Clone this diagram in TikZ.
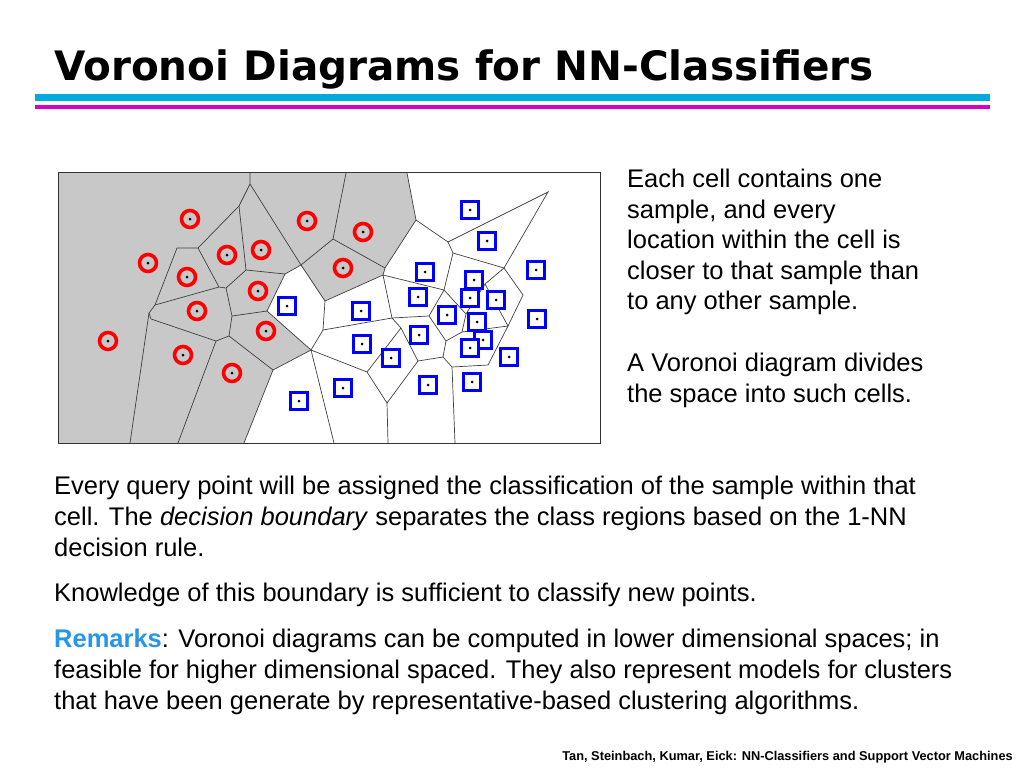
\documentclass[tikz,border=0pt]{standalone}
\usepackage{fontspec}
\setmainfont{Liberation Sans}
\newfontfamily\titlefont{DejaVu Sans}
\usetikzlibrary{positioning}
\definecolor{barcyan}{RGB}{0,170,220}
\definecolor{barmag}{RGB}{210,0,200}
\definecolor{remblue}{RGB}{40,150,230}
\definecolor{cellgray}{RGB}{200,200,200}
\tikzset{
  txt/.style={anchor=north west, inner sep=0pt, font=\fontsize{25.5}{31}\selectfont, align=left},
  redpt/.style={circle, draw=red, line width=3.6pt, minimum size=17pt, inner sep=0pt},
  bluept/.style={rectangle, draw=blue, line width=3.6pt, minimum size=17pt, inner sep=0pt},
  edge/.style={draw=black!75, line width=0.7pt}
}
\begin{document}
\begin{tikzpicture}[x=1pt,y=-1pt]
  \useasboundingbox (0,0) rectangle (1024,768);
  % title and bars
  \node (title) [anchor=base west, inner sep=0pt, font=\titlefont\fontsize{40.5}{44}\bfseries] at (54,80) {Voronoi Diagrams for NN-Classifiers};
  \fill[barcyan] (35,94) rectangle (990,101);
  \fill[barmag] (35,105) rectangle (990,109);
  % voronoi panel
  \fill[cellgray] (58,172) -- (407,173) -- (416,220) -- (385,268) -- (383,275) -- (325,301) -- (301,265)
    -- (285,274) -- (267,311) -- (311,350) -- (273,370) -- (244,443) -- (58,443) -- cycle;
  \draw[edge] (407,173) -- (416,220) -- (385,268) -- (383,275) -- (325,301) -- (301,265)
    -- (285,274) -- (267,311) -- (311,350) -- (273,370) -- (244,443);
  % red cell edges
  \draw[edge] (250,173) -- (250,184) -- (239,206) -- (198,248) -- (177,248) -- (155,305) -- (149,313) -- (130,443);
  \draw[edge] (250,184) -- (301,265);
  \draw[edge] (239,206) -- (246,270) -- (285,274);
  \draw[edge] (198,248) -- (219,287) -- (226,288) -- (246,270);
  \draw[edge] (155,305) -- (219,287);
  \draw[edge] (226,288) -- (232,316) -- (267,311);
  \draw[edge] (232,316) -- (229,336) -- (273,370);
  \draw[edge] (149,313) -- (151,319) -- (216,341) -- (229,336);
  \draw[edge] (216,341) -- (178,443);
  \draw[edge] (346,173) -- (333,239) -- (301,265);
  \draw[edge] (333,239) -- (385,268);
  % blue cell edges
  \draw[edge] (416,220) -- (448,242) -- (548,192) -- (504,268);
  \draw[edge] (448,242) -- (453,253) -- (504,268) -- (523,295) -- (508,326);
  \draw[edge] (453,253) -- (444,290);
  \draw[edge] (383,275) -- (444,290) -- (429,316) -- (392,318) -- (383,275);
  \draw[edge] (325,301) -- (323,330) -- (392,318);
  \draw[edge] (323,330) -- (311,350) -- (367,372) -- (387,403) -- (418,361) -- (401,328) -- (392,318);
  \draw[edge] (367,372) -- (401,328);
  \draw[edge] (311,350) -- (334,443);
  \draw[edge] (387,403) -- (388,443);
  \draw[edge] (418,361) -- (443,357) -- (452,367) -- (455,443);
  \draw[edge] (452,367) -- (488,365) -- (508,326);
  \draw[edge] (443,357) -- (446,341) -- (429,316);
  \draw[edge] (446,341) -- (462,332) -- (466,314) -- (444,290);
  \draw[edge] (462,332) -- (508,326);
  \draw[edge] (466,314) -- (485,284) -- (504,268);
  \draw[edge] (485,284) -- (508,326);
  \draw[black!80, line width=1pt] (58,172) rectangle (600,443);
  % samples
  \foreach \px/\py [count=\i] in {190/219,148/263,227/255,261/250,187/277,307/221,363/232,343/268,
      258/291,197/311,266/331,108/341,183/355,232/373}
    \node (r\i) [redpt] at (\px,\py) {\tikz\fill (0,0) circle (1.5pt);};
  \foreach \px/\py [count=\i] in {470/210,487/241,536/270,425/272,474/280,418/297,470/298,496/300,
      287/306,361/311,447/315,477/322,537/319,419/335,362/344,483/340,470/348,391/358,509/357,
      428/385,472/382,343/388,299/401}
    \node (b\i) [bluept, fill=white] at (\px,\py) {\tikz\fill (0,0) circle (1.5pt);};
  % text
  \node (side) [txt, font=\fontsize{25.5}{30.5}\selectfont] at (627,169) {Each cell contains one\\sample, and every\\location within the cell is\\closer to that sample than\\to any other sample.};
  \node (side2) [txt, font=\fontsize{25.5}{30.5}\selectfont] at (627,353) {A Voronoi diagram divides\\the space into such cells.};
  \node (para1) [txt] at (54,476) {Every query point will be assigned the classification of the sample within that\\cell. The \textit{decision boundary} separates the class regions based on the 1-NN\\decision rule.};
  \node (para2) [txt] at (54,583) {Knowledge of this boundary is sufficient to classify new points.};
  \node (para3) [txt] at (54,629) {\textcolor{remblue}{\textbf{Remarks}}: Voronoi diagrams can be computed in lower dimensional spaces; in\\feasible for higher dimensional spaced. They also represent models for clusters\\that have been generate by representative-based clustering algorithms.};
  \node (foot) [anchor=base east, inner sep=0pt, font=\fontsize{12.8}{14}\bfseries] at (1013,760) {Tan, Steinbach, Kumar, Eick: NN-Classifiers and Support Vector Machines};
\end{tikzpicture}
\end{document}
